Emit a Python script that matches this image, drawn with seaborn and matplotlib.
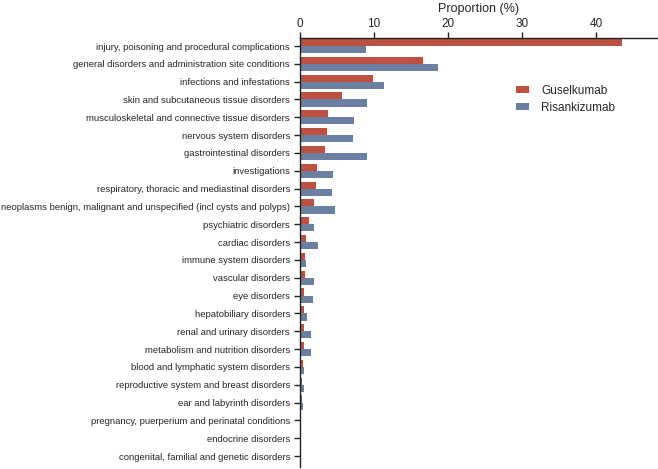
import pandas as pd
import seaborn as sns
import matplotlib.pyplot as plt

categories = [
    "injury, poisoning and procedural complications",
    "general disorders and administration site conditions",
    "infections and infestations",
    "skin and subcutaneous tissue disorders",
    "musculoskeletal and connective tissue disorders",
    "nervous system disorders",
    "gastrointestinal disorders",
    "investigations",
    "respiratory, thoracic and mediastinal disorders",
    "neoplasms benign, malignant and unspecified (incl cysts and polyps)",
    "psychiatric disorders",
    "cardiac disorders",
    "immune system disorders",
    "vascular disorders",
    "eye disorders",
    "hepatobiliary disorders",
    "renal and urinary disorders",
    "metabolism and nutrition disorders",
    "blood and lymphatic system disorders",
    "reproductive system and breast disorders",
    "ear and labyrinth disorders",
    "pregnancy, puerperium and perinatal conditions",
    "endocrine disorders",
    "congenital, familial and genetic disorders",
]

guselkumab = [43.4, 16.6, 9.9, 5.7, 3.85, 3.7, 3.4, 2.35, 2.2, 1.95, 1.2, 0.9,
              0.75, 0.75, 0.6, 0.6, 0.57, 0.57, 0.43, 0.28, 0.25, 0.12, 0.1, 0.04]
risankizumab = [8.9, 18.7, 11.3, 9.0, 7.35, 7.2, 9.0, 4.5, 4.4, 4.8, 1.95, 2.4,
                0.9, 1.87, 1.83, 1.0, 1.46, 1.46, 0.57, 0.57, 0.4, 0.2, 0.1, 0.05]

drugs = ["Guselkumab", "Risankizumab"]
colors = ["#BC5142", "#6A7FA1"]

df = pd.DataFrame({
    "category": categories * 2,
    "drug": [drugs[0]] * len(categories) + [drugs[1]] * len(categories),
    "value": guselkumab + risankizumab,
})

sns.set_style("ticks")
plt.rcParams["font.family"] = ["Liberation Sans", "DejaVu Sans"]

fig = plt.figure(figsize=(6.58, 4.69), dpi=100)
ax = fig.add_axes([0.4556, 0.004, 0.5444, 0.915])

sns.barplot(data=df, x="value", y="category", hue="drug", order=categories,
            hue_order=drugs, palette=colors, orient="h", width=0.8,
            saturation=1, linewidth=0, ax=ax)

ax.set_xlim(0, 48.3)
ax.set_ylim(23.62, -0.45)
ax.set_xticks([0, 10, 20, 30, 40])
ax.xaxis.tick_top()
ax.xaxis.set_label_position("top")
ax.set_xlabel("Proportion (%)", fontsize=9, labelpad=4)
ax.set_ylabel("")
ax.tick_params(axis="x", labelsize=8.5, length=4, width=1, color="#222222", pad=2)
ax.tick_params(axis="y", labelsize=6.8, length=4, width=1, color="#222222", pad=3)
for s in ["bottom", "right"]:
    ax.spines[s].set_visible(False)
for s in ["top", "left"]:
    ax.spines[s].set_linewidth(1)
    ax.spines[s].set_color("#222222")

ax.legend(loc="upper left", bbox_to_anchor=(0.575, 0.916), frameon=False,
          fontsize=8.5, handlelength=1.1, handleheight=0.5, handletextpad=1.0,
          labelspacing=0.45)

fig.savefig("out.png", dpi=100)
